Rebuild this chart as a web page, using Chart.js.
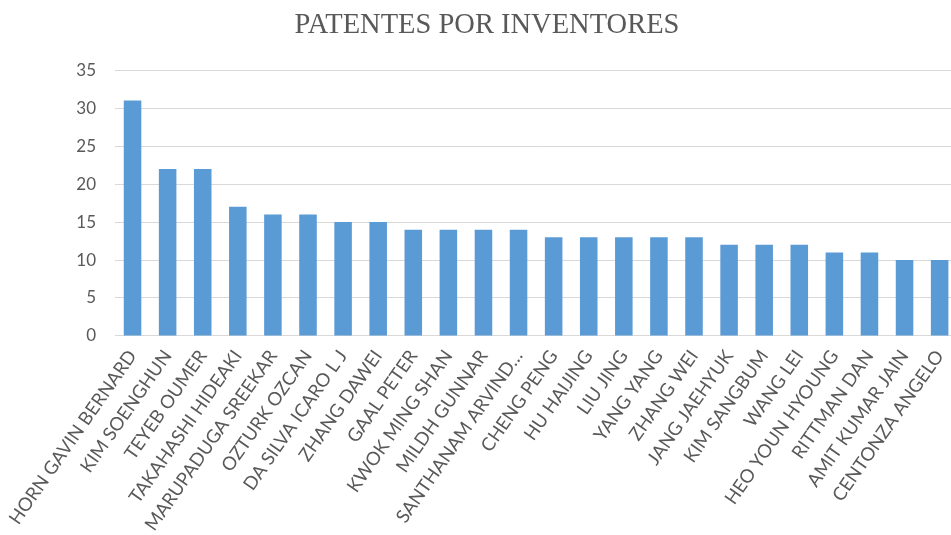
<!DOCTYPE html>
<html>
<head>
<meta charset="utf-8">
<title>Patentes por inventores</title>
<script src="https://cdn.jsdelivr.net/npm/chart.js@4/dist/chart.umd.min.js"></script>
<style>
  html, body { margin: 0; padding: 0; background: #fff; overflow: hidden; }
  #wrap { width: 968px; height: 535px; }
</style>
</head>
<body>
<div id="wrap"><canvas id="patentes"></canvas></div>
<script>
var inventores = [
  'HORN GAVIN BERNARD', 'KIM SOENGHUN', 'TEYEB OUMER', 'TAKAHASHI HIDEAKI',
  'MARUPADUGA SREEKAR', 'OZTURK OZCAN', 'DA SILVA ICARO L J', 'ZHANG DAWEI',
  'GAAL PETER', 'KWOK MING SHAN', 'MILDH GUNNAR', 'SANTHANAM ARVIND…',
  'CHENG PENG', 'HU HAIJING', 'LIU JING', 'YANG YANG', 'ZHANG WEI',
  'JANG JAEHYUK', 'KIM SANGBUM', 'WANG LEI', 'HEO YOUN HYOUNG',
  'RITTMAN DAN', 'AMIT KUMAR JAIN', 'CENTONZA ANGELO'
];
var patentes = [31, 22, 22, 17, 16, 16, 15, 15, 14, 14, 14, 14,
                13, 13, 13, 13, 13, 12, 12, 12, 11, 11, 10, 10];
var ejeY = { min: 0, max: 35, paso: 5 };

var gris = '#595959';

new Chart(document.getElementById('patentes'), {
  type: 'bar',
  data: {
    labels: inventores,
    datasets: [{
      label: 'Patentes',
      data: patentes,
      backgroundColor: '#5b9bd5',
      borderWidth: 0,
      barPercentage: 0.5,
      categoryPercentage: 1
    }]
  },
  options: {
    responsive: true,
    maintainAspectRatio: false,
    animation: false,
    layout: { padding: { left: 14, right: 8, top: 0, bottom: -10 } },
    plugins: {
      legend: { display: false },
      tooltip: { enabled: false },
      title: {
        display: true,
        text: 'PATENTES POR INVENTORES',
        color: gris,
        font: { family: '"Liberation Serif", "Times New Roman", serif', size: 28.5, weight: 'normal' },
        padding: { top: 8, bottom: 28 }
      }
    },
    scales: {
      x: {
        grid: { display: false, drawTicks: false },
        border: { display: true, color: '#d9d9d9', width: 1 },
        ticks: {
          color: gris,
          minRotation: 55,
          maxRotation: 55,
          autoSkip: false,
          padding: 10,
          font: { family: 'Lato, sans-serif', size: 18.5 }
        }
      },
      y: {
        min: ejeY.min,
        max: ejeY.max,
        // ancho fijo del eje para dejar sitio a la izquierda
        afterFit: function (scale) { scale.width = 101; },
        grid: { color: '#d9d9d9', drawTicks: false },
        border: { display: false },
        ticks: {
          stepSize: ejeY.paso,
          color: gris,
          padding: 19,
          font: { family: 'Lato, sans-serif', size: 17 }
        }
      }
    }
  }
});
</script>
</body>
</html>
